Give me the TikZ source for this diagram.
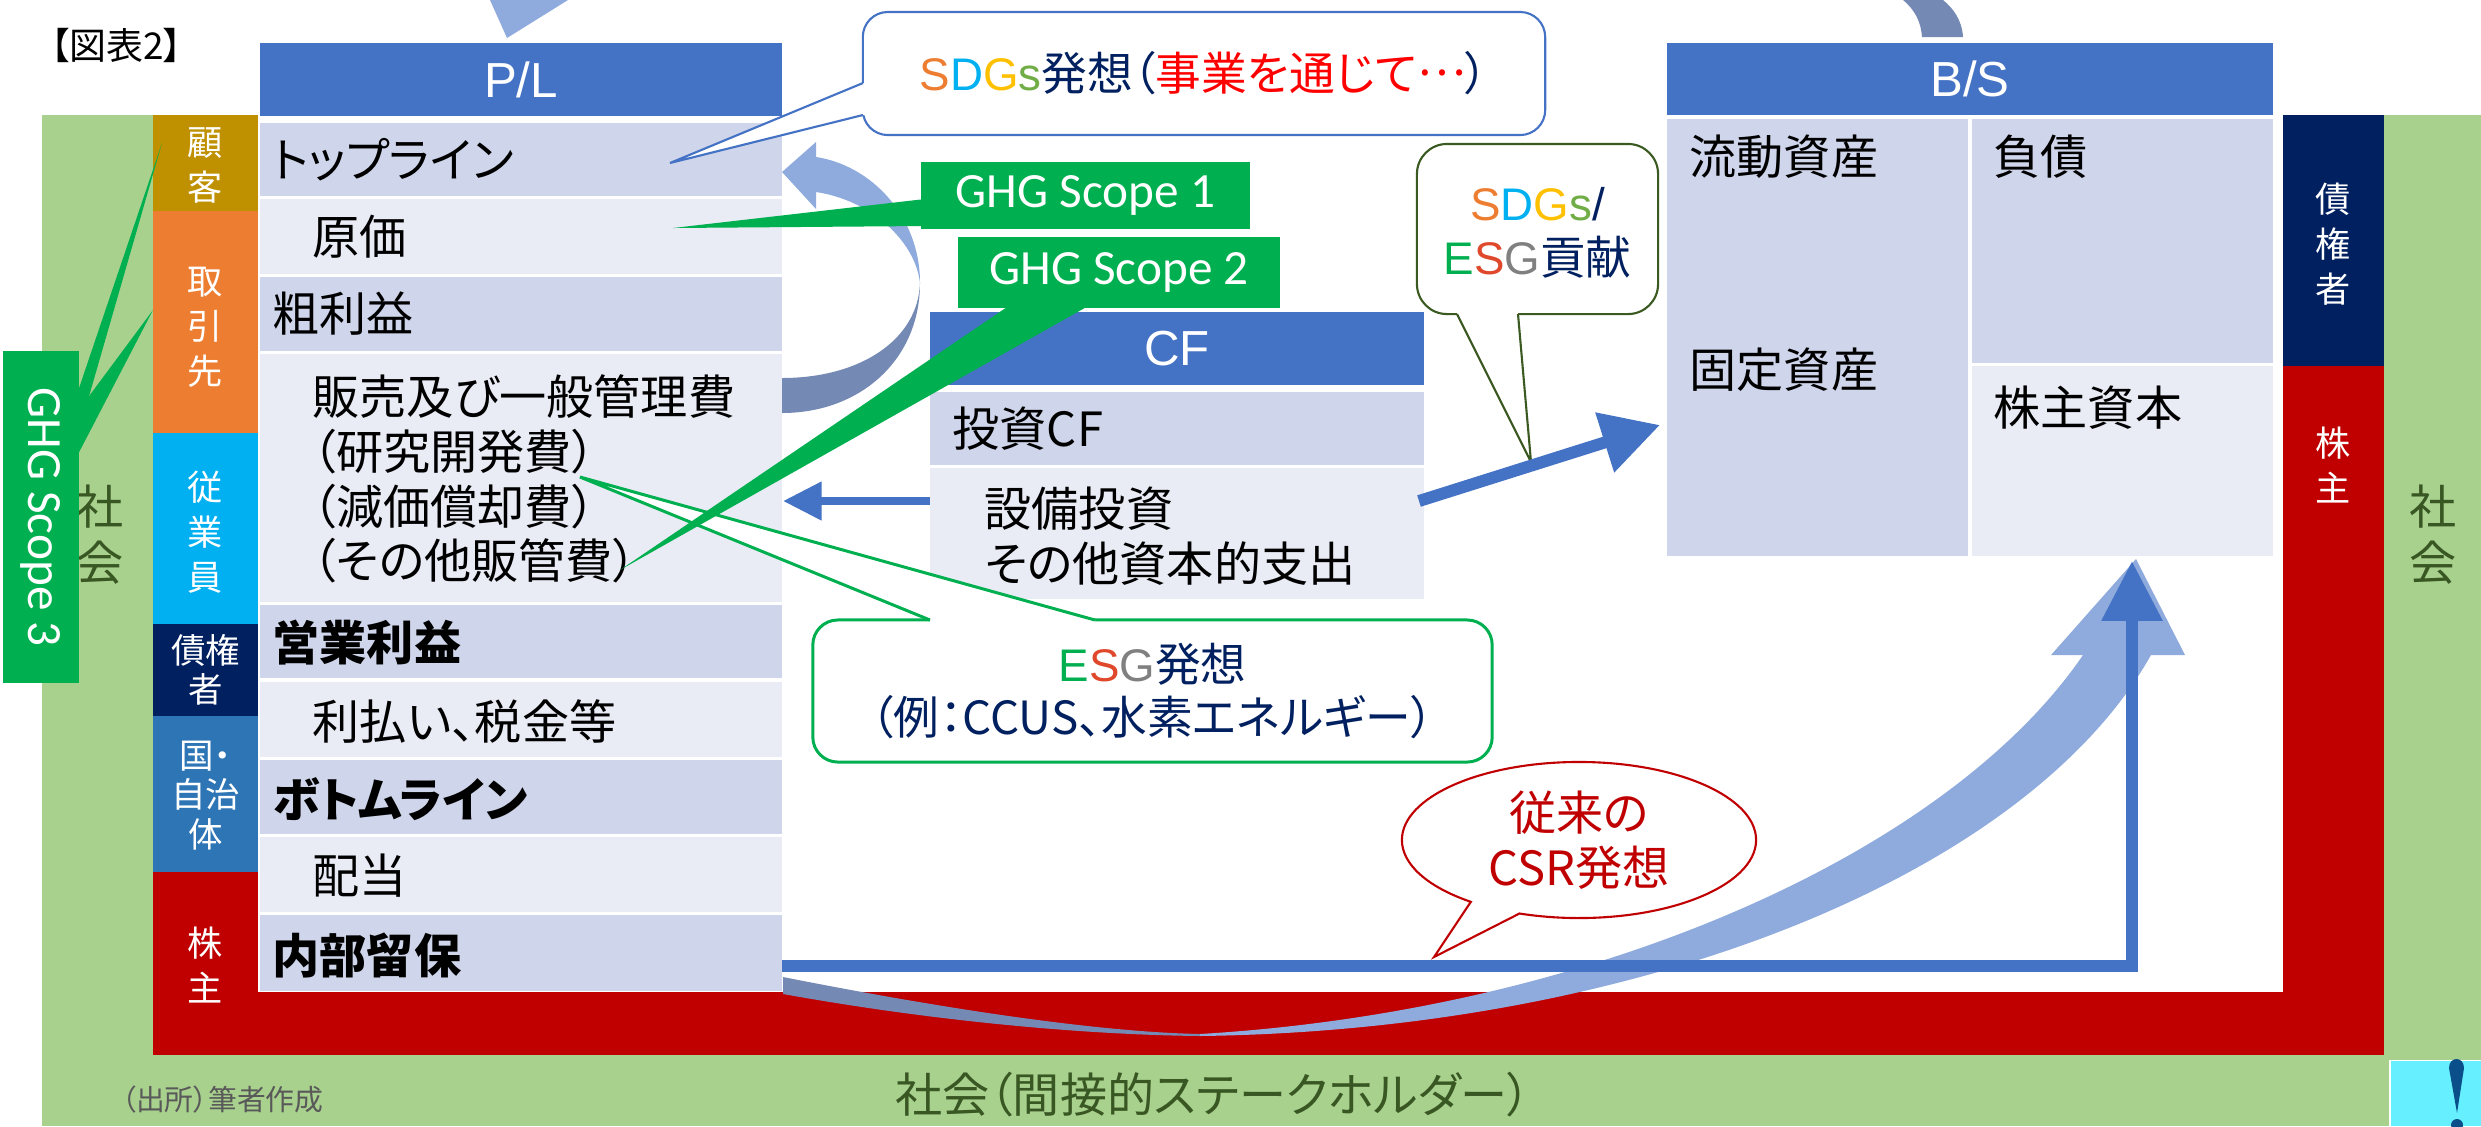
\documentclass[tikz,border=0pt]{standalone}
\usepackage{fontspec}
\setmainfont{Noto Sans CJK JP}[CharacterWidth=AlternateProportional]
\newfontfamily\latf{Liberation Sans}
\newfontfamily\calf{Carlito}
\usetikzlibrary{arrows.meta,shapes.callouts,shapes.geometric}

\definecolor{hdr}{HTML}{4472C4}
\definecolor{rowD}{HTML}{CFD5EA}
\definecolor{rowL}{HTML}{E9EBF5}
\definecolor{soc}{HTML}{A9D18E}
\definecolor{socT}{HTML}{385723}
\definecolor{ghg}{HTML}{00B050}
\definecolor{cust}{HTML}{BF9000}
\definecolor{supp}{HTML}{ED7D31}
\definecolor{empl}{HTML}{00B0F0}
\definecolor{cred}{HTML}{002060}
\definecolor{govt}{HTML}{2E75B6}
\definecolor{shar}{HTML}{C00000}
\definecolor{arrL}{HTML}{8FAADC}
\definecolor{arrD}{RGB}{116,137,180}
\definecolor{cyanb}{HTML}{66F0FF}
\definecolor{excl}{HTML}{0B4F8A}
\definecolor{sO}{HTML}{ED7D31}
\definecolor{sB}{HTML}{00B0F0}
\definecolor{sY}{HTML}{FFC000}
\definecolor{sG}{HTML}{70AD47}
\definecolor{navy}{HTML}{002060}
\definecolor{sdred}{HTML}{FF0000}
\definecolor{eG}{HTML}{00B050}
\definecolor{eS}{HTML}{E0482B}
\definecolor{eGr}{HTML}{808080}
\definecolor{cgreen}{HTML}{3B5A21}
\definecolor{gray5}{HTML}{595959}

\newcommand{\fsRow}{\fontsize{13.4}{15.6}\selectfont}

\begin{document}
\begin{tikzpicture}[x=0.01cm,y=-0.01cm,
  rowtxt/.style={anchor=west,inner sep=0pt,align=left,font=\fsRow},
  rowbold/.style={rowtxt,font=\fsRow\bfseries},
  hdrbox/.style={fill=hdr,text=white,inner sep=0pt,font=\latf\fontsize{14}{16}\selectfont},
  stk/.style={text=white,inner sep=0pt,align=center,font=\fontsize{10}{12.8}\selectfont},
  stktight/.style={stk,font=\fontsize{9.8}{11.2}\selectfont},
  soctxt/.style={text=socT,inner sep=0pt,align=center,font=\fontsize{13.4}{16}\selectfont},
  ghgbox/.style={fill=ghg,text=white,inner sep=0pt,font=\calf\fontsize{14}{16}\selectfont},
  callbox/.style={fill=white,rounded corners=0.25cm,inner sep=0pt},
  calltxt/.style={inner sep=0pt,align=center,font=\fontsize{13}{15.2}\selectfont}]
\useasboundingbox (0,0) rectangle (2481,1126);

% society frame
\fill[soc] (42,115) rectangle (153,1126);
\fill[soc] (42,1055) rectangle (2389,1126);
\fill[soc] (2384,115) rectangle (2481,1060);
\fill[cyanb] (2391,1061) rectangle (2481,1126);
\fill[excl] (2449,1068) .. controls (2449,1056) and (2464,1056) .. (2464,1068) -- (2457,1113) -- cycle;
\fill[excl] (2457,1125) circle[radius=0.06cm];

% shareholders red frame
\fill[shar] (153,992) rectangle (2384,1055);
\fill[shar] (2283,366) rectangle (2384,1055);

% left stakeholder column
\fill[cust] (153,115) rectangle (258,211);
\fill[supp] (153,211) rectangle (258,433);
\fill[empl] (153,433) rectangle (258,624);
\fill[cred] (153,624) rectangle (258,716);
\fill[govt] (153,716) rectangle (258,872);
\fill[shar] (153,872) rectangle (258,1055);
\node[stk] (kokyaku) at (205.5,165.5) {顧\\客};
\node[stk] (torihiki) at (205.5,327.5) {取\\引\\先};
\node[stk] (jugyo) at (205.5,532) {従\\業\\員};
\node[stktight] (saiken) at (205.5,670) {債権\\者};
\node[stktight] (kuni) at (205.5,795.5) {国・\\自治\\体};
\node[stk] (kabu) at (205.5,965.5) {株\\主};

% right stakeholder column
\fill[cred] (2283,115) rectangle (2384,366);
\node[stk] (saikenR) at (2333,244) {債\\権\\者};
\node[stk] (kabuR) at (2333,465) {株\\主};

% society labels
\node[soctxt] (socL) at (100,535) {社\\会};
\node[soctxt] (socR) at (2433,535) {社\\会};
\node[soctxt] (socB) at (1213,1095) {社会（間接的ステークホルダー）};
\node[anchor=west,inner sep=0pt,text=gray5,font=\fontsize{8.2}{10}\selectfont] (src) at (121,1100) {（出所）筆者作成};
\node[anchor=west,inner sep=0pt,font=\fontsize{10.5}{12}\selectfont] (fig) at (50,45) {【図表2】};

% top arrow remnants
\fill[arrL] (490,0) -- (568,0) -- (507,38) -- cycle;
\fill[arrD] (1903,0) .. controls (1915,10) and (1921,22) .. (1922,37) -- (1963,37) .. controls (1962,20) and (1953,8) .. (1943,0) -- cycle;

% P/L
\node[hdrbox,minimum width=5.22cm,minimum height=0.73cm] (plh) at (521,79.5) {P/L};
\fill[rowD] (260,123) rectangle (782,196);
\fill[rowL] (260,199) rectangle (782,274);
\fill[rowD] (260,277) rectangle (782,351);
\fill[rowL] (260,354) rectangle (782,602);
\fill[rowD] (260,605) rectangle (782,678);
\fill[rowL] (260,682) rectangle (782,757);
\fill[rowD] (260,760) rectangle (782,834);
\fill[rowL] (260,837) rectangle (782,912);
\fill[rowD] (260,915) rectangle (782,991);
\node[rowtxt] (top) at (272,159.5) {トップライン};
\node[rowtxt] (genka) at (312,236.5) {原価};
\node[rowtxt] (arari) at (272,314) {粗利益};
\node[rowtxt] (sga) at (312,479) {販売及び一般管理費\\（研究開発費）\\（減価償却費）\\（その他販管費）};
\node[rowbold] (eigyo) at (272,643) {営業利益};
\node[rowtxt] (riharai) at (312,721) {利払い、税金等};
\node[rowbold] (bottom) at (272,799) {ボトムライン};
\node[rowtxt] (haito) at (312,876) {配当};
\node[rowbold] (naibu) at (272,955) {内部留保};

% CF
\node[hdrbox,minimum width=4.94cm,minimum height=0.73cm] (cfh) at (1177,348.5) {CF};
\fill[rowD] (930,392) rectangle (1424,465);
\fill[rowL] (930,468) rectangle (1424,599);
\node[rowtxt] (toushi) at (952,429) {投資CF};
\node[rowtxt] (setsubi) at (984,536) {設備投資\\その他資本的支出};

% B/S
\node[hdrbox,minimum width=6.06cm,minimum height=0.72cm] (bsh) at (1970,79) {B/S};
\fill[rowD] (1667,119) rectangle (1968,556);
\fill[rowD] (1972,119) rectangle (2273,363);
\fill[rowL] (1972,366) rectangle (2273,556);
\node[rowtxt] (ryudo) at (1689,157) {流動資産};
\node[rowtxt] (fusai) at (1993,157) {負債};
\node[rowtxt] (kotei) at (1689,370) {固定資産};
\node[rowtxt] (kabushihon) at (1993,408) {株主資本};

% loop arrow beside P/L
\fill[arrL] (920,283) .. controls (920,215) and (870,165) .. (816,157) -- (816,142) -- (782,172) -- (816,209) -- (816,192) .. controls (870,200) and (915,240) .. (920,283) -- cycle;
\fill[arrD] (920,283) .. controls (920,360) and (860,413) .. (782,413) -- (782,378) .. controls (860,378) and (918,340) .. (920,283) -- cycle;

% coordinates for connectors
\coordinate (plNaibu) at (782,966);
\coordinate (bsTip) at (2132,561);
\coordinate (cfL) at (930,501);
\coordinate (plR) at (783,501);
\coordinate (cfR) at (1419,501);
\coordinate (bsL) at (1660,425);

% big curved arrow
\fill[arrD] (783,977) .. controls (950,1010) and (1100,1032) .. (1200,1034) -- (1200,1036) .. controls (1100,1035) and (950,1024) .. (783,994) -- cycle;
\fill[arrL] (1200,1034) .. controls (1600,1010) and (1950,850) .. (2083,655) -- (2051,655) -- (2136,559) -- (2185,655) -- (2151,655) .. controls (2030,870) and (1650,1030) .. (1200,1036) -- cycle;

% L-shaped retained earnings arrow
\draw[hdr,line width=3.4pt,-{Triangle[length=17pt,width=16.5pt]}] (plNaibu) -| (bsTip);

% callout: SDGs
\node[callbox,draw=hdr,line width=0.6pt,minimum width=6.82cm,minimum height=1.23cm] (sdg) at (1204,73.5) {};
\coordinate (sdgTip) at (670,163);
\fill[white] (863,83) -- (866,83) -- (866,115) -- (863,115) -- (sdgTip) -- cycle;
\draw[hdr,line width=0.6pt] (863,83) -- (sdgTip) -- (863,115);
\node[calltxt,text=navy] (sdgtxt) at (sdg.center) {{\latf\textcolor{sO}{S}\textcolor{sB}{D}\textcolor{sY}{G}\textcolor{sG}{s}}発想（\textcolor{sdred}{事業を通じて\raisebox{0.33em}{…}}）};

% callout: ESG
\node[callbox,draw=ghg,line width=0.85pt,minimum width=6.79cm,minimum height=1.42cm] (esg) at (1152.5,691) {};
\coordinate (esgTip) at (580,477);
\fill[white] (930,620) -- (esgTip) -- (1095,620) -- (1095,623) -- (930,623) -- cycle;
\draw[ghg,line width=0.85pt] (930,620) -- (esgTip) -- (1095,620);
\node[calltxt,text=navy] (esgtxt) at (esg.center) {{\latf\textcolor{eG}{E}\textcolor{eS}{S}\textcolor{eGr}{G}}発想\\（例：CCUS、水素エネルギー）};

% callout: SDGs/ESG contribution
\node[callbox,draw=cgreen,line width=0.6pt,rounded corners=0.3cm,minimum width=2.41cm,minimum height=1.70cm] (cont) at (1537.5,229) {};
\coordinate (contTip) at (1531,462);
\fill[white] (1457,314) -- (contTip) -- (1518,314) -- (1518,311) -- (1457,311) -- cycle;
\draw[cgreen,line width=0.6pt] (1457,314) -- (contTip) -- (1518,314);
\node[calltxt,text=navy] (conttxt) at (1537.5,233) {{\latf\textcolor{sO}{S}\textcolor{sB}{D}\textcolor{sY}{G}\textcolor{sG}{s}/}\\{\latf\textcolor{eG}{E}\textcolor{eS}{S}\textcolor{eGr}{G}}貢献};

% callout: CSR
\node[ellipse callout,draw=shar,fill=white,line width=0.6pt,inner sep=0pt,minimum width=3.54cm,minimum height=1.56cm,
  callout absolute pointer={(1434,957)},callout pointer arc=18,align=center,text=shar,
  font=\fontsize{13.4}{15.6}\selectfont] (csr) at (1579,840) {従来の\\CSR発想};

% CF arrows
\draw[hdr,line width=2.3pt,-{Triangle[length=11pt,width=10.5pt]}] (cfL) -- (plR);
\draw[hdr,line width=3.4pt,-{Triangle[length=16.5pt,width=17pt]}] (cfR) -- (bsL);

% GHG callouts
\fill[ghg] (925,199) -- (673,228) -- (925,226) -- cycle;
\fill[ghg] (1010,305) -- (620,570) -- (1090,305) -- cycle;
\fill[ghg] (75,400) -- (162,143) -- (75,445) -- cycle;
\fill[ghg] (75,415) -- (153,310) -- (75,460) -- cycle;
\node[ghgbox,minimum width=3.29cm,minimum height=0.67cm] (g1) at (1085.5,195.5) {GHG Scope 1};
\node[ghgbox,minimum width=3.22cm,minimum height=0.71cm] (g2) at (1119,272.5) {GHG Scope 2};
\node[ghgbox,rotate=-90,minimum width=3.32cm,minimum height=0.76cm] (g3) at (41,517) {GHG Scope 3};

\end{tikzpicture}
\end{document}
